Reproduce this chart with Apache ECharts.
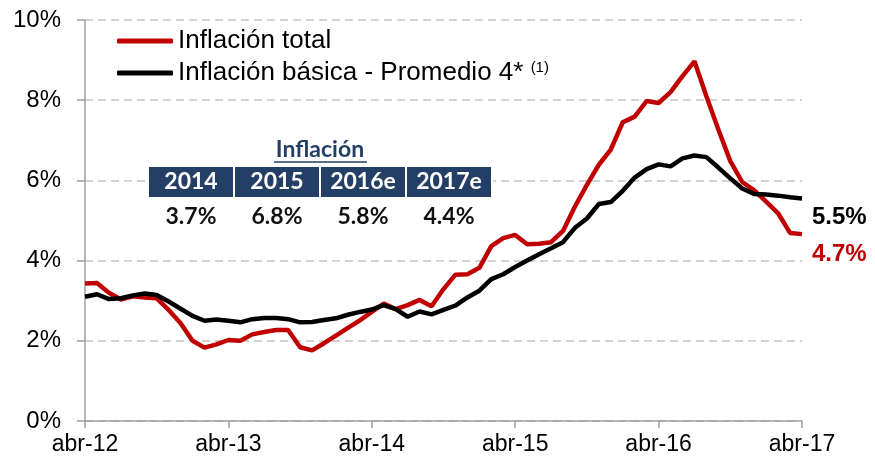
<!DOCTYPE html>
<html>
<head>
<meta charset="utf-8">
<script src="https://cdn.jsdelivr.net/npm/echarts@6/dist/echarts.min.js"></script>
<style>
  html, body { margin: 0; padding: 0; background: #fff; }
  #chart { width: 875px; height: 469px; }
</style>
</head>
<body>
<div id="chart"></div>
<script>
  // abr-12 ... abr-17, mensual
  var monthNames = ['abr', 'may', 'jun', 'jul', 'ago', 'sep', 'oct', 'nov', 'dic', 'ene', 'feb', 'mar']
  var categories = []
  for (var i = 0; i < 61; i++) {
    var yy = 12 + Math.floor((i + 3) / 12)
    categories.push(monthNames[i % 12] + '-' + yy)
  }

  var inflacionTotal = [
    3.43, 3.44, 3.20, 3.03, 3.11, 3.08, 3.06, 2.77, 2.44,
    2.00, 1.83, 1.91, 2.02, 2.00, 2.16, 2.22, 2.27, 2.27, 1.84, 1.76, 1.94,
    2.13, 2.32, 2.51, 2.72, 2.93, 2.79, 2.89, 3.02, 2.86, 3.29, 3.65, 3.66,
    3.82, 4.36, 4.56, 4.64, 4.41, 4.42, 4.46, 4.74, 5.35, 5.89, 6.39, 6.77,
    7.45, 7.59, 7.98, 7.93, 8.20, 8.60, 8.97, 8.10, 7.27, 6.48, 5.96, 5.75,
    5.47, 5.18, 4.69, 4.66
  ]
  var inflacionBasica = [
    3.10, 3.16, 3.04, 3.06, 3.13, 3.18, 3.14, 2.98, 2.80,
    2.62, 2.50, 2.53, 2.50, 2.46, 2.54, 2.57, 2.57, 2.54, 2.46, 2.47, 2.52,
    2.56, 2.65, 2.72, 2.78, 2.89, 2.79, 2.60, 2.73, 2.66, 2.77, 2.88, 3.08,
    3.25, 3.54, 3.66, 3.84, 4.00, 4.16, 4.31, 4.46, 4.82, 5.05, 5.41, 5.46,
    5.74, 6.07, 6.28, 6.40, 6.35, 6.55, 6.62, 6.58, 6.32, 6.05, 5.80, 5.66,
    5.65, 5.62, 5.58, 5.55
  ]
  var endLabels = ['4.7%', '5.5%']

  var tableYears = ['2014', '2015', '2016e', '2017e']
  var tableValues = ['3.7%', '6.8%', '5.8%', '4.4%']

  var myChart = echarts.init(document.getElementById('chart'))

  // cuadro "Inflación" (encima de la cuadrícula)
  var graphics = [{
    type: 'text', x: 320, y: 150, z: 100,
    style: { text: 'Inflación', align: 'center', verticalAlign: 'middle',
      font: 'bold 23px Lato', fill: '#243F66' }
  }, {
    type: 'line', z: 100, shape: { x1: 274, y1: 162, x2: 367, y2: 162 },
    style: { stroke: '#243F66', lineWidth: 1.5 }
  }, {
    type: 'rect', z: 100, shape: { x: 147, y: 166, width: 346, height: 32 },
    style: { fill: '#fff' }
  }]
  var boxX = [149, 235, 321, 407]
  tableYears.forEach(function (yr, k) {
    graphics.push({
      type: 'rect', z: 101, shape: { x: boxX[k], y: 167, width: 84, height: 30 },
      style: { fill: '#243F66' }
    })
    graphics.push({
      type: 'text', z: 102, x: boxX[k] + 42, y: 182,
      style: { text: yr, align: 'center', verticalAlign: 'middle', font: 'bold 23px Lato', fill: '#fff' }
    })
    graphics.push({
      type: 'text', z: 102, x: boxX[k] + 42, y: 217,
      style: { text: tableValues[k], align: 'center', verticalAlign: 'middle', font: 'bold 23px Lato', fill: '#111' }
    })
  })

  var option = {
    animation: false,
    textStyle: { fontFamily: 'Liberation Sans' },
    legend: {
      orient: 'vertical',
      left: 112,
      top: 23,
      icon: 'roundRect',
      itemWidth: 56,
      itemHeight: 5,
      itemGap: 6,
      textStyle: {
        fontSize: 26,
        color: '#000',
        rich: {
          sup: { fontSize: 15, verticalAlign: 'top', padding: [0, 0, 10, 0] }
        }
      },
      formatter: function (name) {
        return name === 'Inflación básica - Promedio 4*' ? name + ' {sup|(1)}' : name
      },
      data: ['Inflación total', 'Inflación básica - Promedio 4*']
    },
    grid: {
      left: 85,
      right: 73,
      top: 20,
      bottom: 48,
      containLabel: false
    },
    xAxis: {
      type: 'category',
      boundaryGap: false,
      data: categories,
      axisLine: { lineStyle: { color: '#A0A0A0', width: 1.5 } },
      axisTick: { interval: 11, length: 7, lineStyle: { color: '#A0A0A0', width: 1.5 } },
      axisLabel: { interval: 11, fontSize: 23, color: '#000', margin: 12 }
    },
    yAxis: {
      type: 'value',
      min: 0,
      max: 10,
      interval: 2,
      axisLine: { show: true, lineStyle: { color: '#A0A0A0', width: 1.5 } },
      axisTick: { show: true, length: 8, lineStyle: { color: '#A0A0A0', width: 1.5 } },
      axisLabel: { fontSize: 24, color: '#000', margin: 24, formatter: '{value}%' },
      splitLine: { lineStyle: { color: '#C4C4C4', width: 1.5, type: [8, 5] } }
    },
    series: [{
      name: 'Inflación total',
      type: 'line',
      data: inflacionTotal,
      symbol: 'none',
      z: 3,
      lineStyle: { color: '#C00000', width: 4.5 },
      itemStyle: { color: '#C00000' },
      endLabel: {
        show: true,
        formatter: function () { return endLabels[0] },
        color: '#C00000',
        fontSize: 24,
        fontWeight: 'bold',
        offset: [2, 20]
      }
    }, {
      name: 'Inflación básica - Promedio 4*',
      type: 'line',
      data: inflacionBasica,
      symbol: 'none',
      z: 4,
      lineStyle: { color: '#000', width: 4.5 },
      itemStyle: { color: '#000' },
      endLabel: {
        show: true,
        formatter: function () { return endLabels[1] },
        color: '#000',
        fontSize: 24,
        fontWeight: 'bold',
        offset: [2, 19]
      }
    }],
    graphic: graphics
  }

  option && myChart.setOption(option)
  window.addEventListener('resize', myChart.resize)
</script>
</body>
</html>
